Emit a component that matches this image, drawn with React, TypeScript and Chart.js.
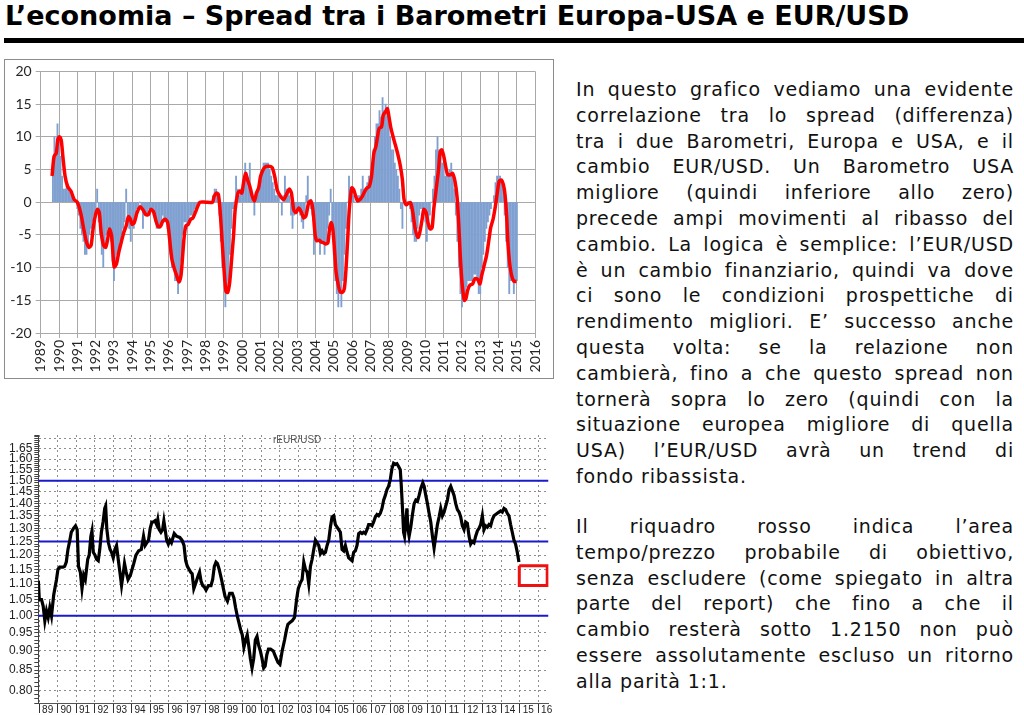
import React, { useEffect, useRef } from "react";
import { Chart, registerables } from "chart.js";

Chart.register(...registerables);

// ---------- Chart 1: spread between the Barometers (Europe - USA) ----------
const SPREAD_YEARS = [1989, 1990, 1991, 1992, 1993, 1994, 1995, 1996, 1997, 1998, 1999, 2000, 2001, 2002, 2003, 2004, 2005, 2006, 2007, 2008, 2009, 2010, 2011, 2012, 2013, 2014, 2015, 2016];
const SPREAD_TICKS = [-20, -15, -10, -5, 0, 5, 10, 15, 20];

// monthly bars, first bar = September 1989
const BAR_FIRST_YEAR = 1989;
const BAR_FIRST_MONTH = 8; // 0-based (September)
const spreadMonthly = [
  4, 10, 7, 12,
  10, 7, 4, 2, 2, 3, 2, 1.5, 1, 0.5, 0.3, 0,
  -1, -2, -4, -5, -6, -8, -8, -7, -5, -4, -3, -2,
  -1, 2, -3, -5, -8, -10, -7, -5, -4, -4, -6, -9,
  -12, -10, -8, -7, -6, -5, -4, -3, 2, -2, -4, -6,
  -3, -4, -2, -1, -1, 0, -1, -4, -2, -2, -2, -1,
  -1, -1, -2, -3, -4, -4, -4, -3, -2, -3, -3, -4,
  -6, -8, -10, -10, -12, -12, -14, -12, -9, -5, -3, -3,
  -4, -3, -2, -2, -2, -1, -1, 0, 0, 0, 0, 0,
  0, 0, 0, 0, 0, 1, 2, 2, 1, -2, -6, -10,
  -12, -16, -14, -12, -8, -4, -1, 0, 4, 2, 1, 2,
  2, 4, 6, 4, 3, 6, 2, 0, -2, 1, 2, 3,
  4, 5, 6, 6, 6, 6, 5, 4, 3, 2, 1, 1,
  1, 0, -2, 1, 4, 2, 2, 1, -2, -4, -2, -1,
  -1, -1, -2, -3, -4, -2, 1, 4, 0, -1, -2, -8,
  -6, -6, -6, -8, -6, -6, -8, -6, -4, -2, 2, -4,
  -8, -12, -14, -16, -14, -16, -12, -8, -4, 0, 4, 2,
  2, 1, 0, 0, 1, 1, 2, 4, 2, 2, 3, 4,
  4, 6, 8, 10, 12, 12, 14, 13, 16, 14, 15, 14,
  12, 10, 8, 8, 6, 5, 4, 2, -1, -4, 0, 0,
  0, 0, -1, -3, -5, -6, -6, -4, -2, -1, -1, -2,
  -3, -6, -4, -2, 0, 2, 4, 8, 10, 8, 8, 6,
  6, 4, 4, 4, 5, 6, 4, 2, -2, -6, -10, -14,
  -16, -15, -14, -13, -12, -12, -12, -12, -11, -11, -12, -14,
  -14, -10, -8, -6, -4, -3, -2, -1, 0, 1, 3, 4,
  4, 4, 3, 2, -2, -6, -10, -14, -12, -12, -14, -12,
  -12,
];

// smoothed spread (red line)
const smoothYears = [
  1989.62, 1989.73, 1989.85, 1989.94, 1990.03, 1990.12, 1990.21, 1990.33, 1990.47, 1990.65, 1990.83, 1991.0,
  1991.18, 1991.35, 1991.5, 1991.63, 1991.75, 1991.86, 1991.98, 1992.1, 1992.2, 1992.3, 1992.43, 1992.55,
  1992.66, 1992.75, 1992.87, 1993.01, 1993.14, 1993.26, 1993.4, 1993.54, 1993.67, 1993.79, 1993.9, 1993.99,
  1994.11, 1994.26, 1994.43, 1994.59, 1994.74, 1994.88, 1995.01, 1995.15, 1995.27, 1995.4, 1995.54, 1995.66,
  1995.8, 1995.93, 1996.03, 1996.16, 1996.3, 1996.42, 1996.55, 1996.66, 1996.75, 1996.84, 1996.93, 1997.05,
  1997.19, 1997.31, 1997.44, 1997.58, 1997.7, 1998.0, 1998.38, 1998.47, 1998.59, 1998.7, 1998.79, 1998.91,
  1999.02, 1999.12, 1999.21, 1999.32, 1999.44, 1999.53, 1999.62, 1999.75, 1999.85, 1999.98, 2000.07, 2000.19,
  2000.3, 2000.42, 2000.55, 2000.67, 2000.78, 2000.9, 2001.0, 2001.13, 2001.26, 2001.46, 2001.64, 2001.78,
  2001.91, 2002.09, 2002.27, 2002.45, 2002.58, 2002.69, 2002.81, 2002.94, 2003.08, 2003.21, 2003.36, 2003.48,
  2003.63, 2003.75, 2003.86, 2003.99, 2004.08, 2004.21, 2004.31, 2004.44, 2004.57, 2004.68, 2004.77, 2004.86,
  2004.95, 2005.04, 2005.13, 2005.25, 2005.35, 2005.47, 2005.58, 2005.67, 2005.76, 2005.85, 2005.98, 2006.09,
  2006.2, 2006.3, 2006.43, 2006.56, 2006.7, 2006.83, 2006.94, 2007.06, 2007.19, 2007.3, 2007.39, 2007.48,
  2007.61, 2007.7, 2007.82, 2007.93, 2008.02, 2008.11, 2008.24, 2008.37, 2008.51, 2008.64, 2008.75, 2008.84,
  2008.96, 2009.09, 2009.2, 2009.32, 2009.45, 2009.6, 2009.7, 2009.81, 2009.92, 2010.05, 2010.14, 2010.26,
  2010.37, 2010.46, 2010.59, 2010.72, 2010.81, 2010.9, 2011.01, 2011.13, 2011.22, 2011.37, 2011.49, 2011.62,
  2011.73, 2011.82, 2011.91, 2012.0, 2012.13, 2012.22, 2012.31, 2012.43, 2012.58, 2012.71, 2012.86, 2012.98,
  2013.08, 2013.21, 2013.34, 2013.45, 2013.57, 2013.7, 2013.81, 2013.93, 2014.03, 2014.15, 2014.26, 2014.35,
  2014.44, 2014.51, 2014.6, 2014.71, 2014.84, 2014.98,
];
const smoothValues = [
  4.0, 7.0, 7.5, 9.7, 10.0, 9.5, 7.0, 4.0, 2.4, 1.7, 0.4, 0.0,
  -1.6, -4.1, -6.1, -6.9, -6.6, -4.1, -2.1, -1.1, -1.6, -4.6, -6.6, -6.9,
  -5.6, -4.1, -5.1, -9.9, -9.4, -7.7, -6.1, -4.6, -3.6, -2.2, -2.6, -3.4,
  -3.1, -1.6, -0.7, -1.2, -1.9, -1.9, -1.1, -1.4, -2.6, -3.7, -3.7, -2.9,
  -2.6, -3.1, -5.4, -8.7, -10.2, -11.2, -12.2, -11.2, -8.2, -5.1, -3.6, -3.4,
  -2.6, -2.4, -1.6, -0.6, 0.0, 0.0, 0.0, 0.9, 1.4, 1.2, -1.1, -6.1,
  -10.7, -13.7, -13.8, -12.2, -8.2, -5.1, -1.1, 1.2, 1.7, 1.4, 2.9, 4.4,
  3.4, 2.4, 0.9, 0.2, 1.4, 2.2, 3.9, 4.9, 5.4, 5.5, 5.3, 3.9,
  1.9, 0.9, 0.4, 1.4, 2.0, 1.4, -1.1, -1.6, -0.9, -1.4, -2.4, -2.1,
  -0.1, 0.2, -1.1, -5.1, -5.9, -5.8, -6.1, -6.2, -6.4, -6.2, -4.1, -3.1,
  -4.1, -7.2, -10.7, -12.7, -13.7, -13.8, -13.2, -10.2, -5.7, -1.1, 2.2, 1.9,
  0.9, 0.2, 0.4, 0.9, 1.7, 2.2, 2.4, 3.9, 7.5, 8.5, 10.0, 11.3,
  11.5, 13.3, 13.8, 14.3, 13.0, 11.5, 10.0, 8.7, 7.2, 5.5, 3.4, 0.4,
  -0.4, -0.1, -0.1, -1.6, -4.1, -5.4, -4.6, -2.9, -1.1, -1.6, -3.1, -4.1,
  -3.9, -1.1, 1.9, 4.9, 7.7, 8.0, 7.0, 5.2, 4.2, 4.2, 4.4, 3.2,
  0.9, -3.1, -8.2, -12.2, -15.0, -14.7, -13.5, -12.7, -12.5, -11.7, -11.8, -12.5,
  -11.2, -9.7, -8.2, -6.2, -3.9, -2.6, -0.9, 1.4, 3.2, 3.4, 2.7, 1.2,
  -2.1, -6.2, -9.2, -11.2, -12.1, -12.1,
];

// ---------- Chart 2: EUR/USD ----------
const FX_YEARS = [1989, 1990, 1991, 1992, 1993, 1994, 1995, 1996, 1997, 1998, 1999, 2000, 2001, 2002, 2003, 2004, 2005, 2006, 2007, 2008, 2009, 2010, 2011, 2012, 2013, 2014, 2015, 2016];
const FX_LABELS = ["89", "90", "91", "92", "93", "94", "95", "96", "97", "98", "99", "00", "01", "02", "03", "04", "05", "06", "07", "08", "09", "10", "11", "12", "13", "14", "15", "16"];
const FX_LEVELS = [1.5, 1.25, 1.0];
const TARGET_YEARS = [2014.97, 2016.48];
const TARGET_PRICES = [1.095, 1.162];

const fxYears = [
  1988.95, 1989.0, 1989.12, 1989.21, 1989.3, 1989.39, 1989.48, 1989.57, 1989.66, 1989.78, 1989.93, 1990.01,
  1990.1, 1990.28, 1990.37, 1990.46, 1990.55, 1990.64, 1990.73, 1990.85, 1990.96, 1991.05, 1991.12, 1991.22,
  1991.31, 1991.4, 1991.49, 1991.62, 1991.7, 1991.79, 1991.85, 1991.92, 1992.01, 1992.1, 1992.19, 1992.27,
  1992.36, 1992.45, 1992.54, 1992.59, 1992.65, 1992.74, 1992.83, 1992.91, 1993.0, 1993.09, 1993.18, 1993.27,
  1993.36, 1993.45, 1993.54, 1993.61, 1993.7, 1993.8, 1993.93, 1994.11, 1994.23, 1994.37, 1994.52, 1994.64,
  1994.73, 1994.82, 1994.91, 1995.0, 1995.09, 1995.17, 1995.26, 1995.35, 1995.41, 1995.49, 1995.58, 1995.67,
  1995.74, 1995.8, 1995.89, 1995.98, 1996.06, 1996.15, 1996.3, 1996.42, 1996.6, 1996.72, 1996.83, 1996.92,
  1997.01, 1997.1, 1997.19, 1997.27, 1997.36, 1997.45, 1997.58, 1997.67, 1997.75, 1997.84, 1997.93, 1998.02,
  1998.15, 1998.29, 1998.38, 1998.47, 1998.56, 1998.64, 1998.73, 1998.86, 1998.96, 1999.05, 1999.18, 1999.3,
  1999.44, 1999.53, 1999.62, 1999.71, 1999.8, 1999.89, 1999.98, 2000.07, 2000.16, 2000.25, 2000.33, 2000.42,
  2000.51, 2000.6, 2000.69, 2000.78, 2000.87, 2000.96, 2001.05, 2001.14, 2001.22, 2001.31, 2001.4, 2001.51,
  2001.66, 2001.78, 2001.91, 2002.02, 2002.14, 2002.27, 2002.38, 2002.45, 2002.56, 2002.68, 2002.81, 2002.92,
  2003.01, 2003.13, 2003.22, 2003.31, 2003.4, 2003.49, 2003.58, 2003.67, 2003.76, 2003.85, 2003.94, 2004.03,
  2004.12, 2004.21, 2004.3, 2004.39, 2004.48, 2004.57, 2004.66, 2004.75, 2004.84, 2004.93, 2005.02, 2005.11,
  2005.2, 2005.29, 2005.38, 2005.47, 2005.56, 2005.65, 2005.74, 2005.83, 2005.92, 2006.01, 2006.1, 2006.19,
  2006.28, 2006.37, 2006.46, 2006.55, 2006.64, 2006.73, 2006.82, 2006.91, 2007.0, 2007.09, 2007.18, 2007.27,
  2007.36, 2007.45, 2007.54, 2007.63, 2007.72, 2007.81, 2007.9, 2007.99, 2008.08, 2008.17, 2008.26, 2008.35,
  2008.44, 2008.53, 2008.58, 2008.65, 2008.71, 2008.76, 2008.83, 2008.89, 2008.94, 2009.01, 2009.1, 2009.19,
  2009.28, 2009.37, 2009.46, 2009.55, 2009.64, 2009.75, 2009.82, 2009.91, 2010.0, 2010.09, 2010.18, 2010.27,
  2010.36, 2010.45, 2010.54, 2010.63, 2010.72, 2010.81, 2010.9, 2010.99, 2011.08, 2011.17, 2011.26, 2011.35,
  2011.44, 2011.53, 2011.62, 2011.71, 2011.8, 2011.89, 2011.98, 2012.07, 2012.16, 2012.25, 2012.34, 2012.43,
  2012.52, 2012.61, 2012.7, 2012.79, 2012.88, 2012.97, 2013.06, 2013.15, 2013.24, 2013.33, 2013.42, 2013.51,
  2013.6, 2013.69, 2013.78, 2013.87, 2013.96, 2014.05, 2014.14, 2014.23, 2014.32, 2014.41, 2014.5, 2014.59,
  2014.68, 2014.77, 2014.86, 2014.95,
];
const fxValues = [
  1.11, 1.05, 1.05, 1.03, 0.985, 1.015, 0.995, 1.025, 1.0, 1.065, 1.115, 1.15,
  1.157, 1.157, 1.16, 1.175, 1.22, 1.25, 1.285, 1.3, 1.31, 1.295, 1.16, 1.14,
  1.085, 1.13, 1.115, 1.185, 1.2, 1.27, 1.29, 1.21, 1.2, 1.185, 1.18, 1.22,
  1.285, 1.325, 1.38, 1.39, 1.3, 1.245, 1.22, 1.21, 1.19, 1.22, 1.235, 1.185,
  1.14, 1.095, 1.135, 1.17, 1.14, 1.115, 1.13, 1.17, 1.2, 1.215, 1.22, 1.27,
  1.235, 1.245, 1.255, 1.3, 1.325, 1.325, 1.33, 1.315, 1.335, 1.295, 1.285, 1.295,
  1.33, 1.3, 1.255, 1.24, 1.255, 1.245, 1.28, 1.27, 1.265, 1.255, 1.235, 1.18,
  1.16, 1.15, 1.14, 1.135, 1.085, 1.1, 1.125, 1.14, 1.11, 1.095, 1.09, 1.08,
  1.095, 1.095, 1.115, 1.16, 1.175, 1.17, 1.15, 1.115, 1.085, 1.06, 1.045, 1.07,
  1.07, 1.055, 1.025, 1.0, 0.98, 0.96, 0.945, 0.91, 0.93, 0.945, 0.915, 0.88,
  0.855, 0.88, 0.93, 0.94, 0.915, 0.9, 0.88, 0.855, 0.86, 0.89, 0.905, 0.905,
  0.9, 0.885, 0.87, 0.865, 0.9, 0.93, 0.96, 0.975, 0.98, 0.985, 0.995, 1.05,
  1.085, 1.105, 1.115, 1.175, 1.15, 1.14, 1.1, 1.16, 1.185, 1.22, 1.255, 1.245,
  1.235, 1.205, 1.215, 1.205, 1.21, 1.235, 1.255, 1.305, 1.345, 1.35, 1.315, 1.305,
  1.295, 1.285, 1.22, 1.215, 1.235, 1.21, 1.19, 1.185, 1.18, 1.21, 1.215, 1.235,
  1.28, 1.285, 1.28, 1.285, 1.28, 1.295, 1.315, 1.315, 1.31, 1.325, 1.345, 1.355,
  1.35, 1.36, 1.38, 1.415, 1.435, 1.46, 1.475, 1.505, 1.555, 1.58, 1.575, 1.578,
  1.565, 1.55, 1.485, 1.38, 1.285, 1.27, 1.33, 1.38, 1.3, 1.27, 1.305, 1.355,
  1.4, 1.415, 1.41, 1.435, 1.465, 1.49, 1.475, 1.435, 1.4, 1.36, 1.325, 1.27,
  1.225, 1.27, 1.315, 1.345, 1.38, 1.35, 1.365, 1.39, 1.415, 1.46, 1.475, 1.455,
  1.435, 1.4, 1.375, 1.365, 1.345, 1.31, 1.295, 1.325, 1.32, 1.27, 1.24, 1.25,
  1.245, 1.27, 1.29, 1.3, 1.315, 1.35, 1.295, 1.31, 1.305, 1.315, 1.31, 1.335,
  1.35, 1.355, 1.36, 1.365, 1.37, 1.365, 1.38, 1.375, 1.36, 1.35, 1.315, 1.285,
  1.255, 1.24, 1.21, 1.175,
];

const FX_MIN_YEAR = 1988.946;
const FX_MAX_YEAR = 2016.55;
const FX_MIN = 0.77;
const FX_MAX = 1.72;

// ---------- Text ----------
const TITLE = "L\u2019economia \u2013 Spread tra i Barometri Europa-USA e EUR/USD";
const PARAGRAPH_1 = [
  "In questo grafico vediamo una evidente",
  "correlazione tra lo spread (differenza)",
  "tra i due Barometri, Europa e USA, e il",
  "cambio EUR/USD. Un Barometro USA",
  "migliore (quindi inferiore allo zero)",
  "precede ampi movimenti al ribasso del",
  "cambio. La logica \u00e8 semplice: l\u2019EUR/USD",
  "\u00e8 un cambio finanziario, quindi va dove",
  "ci sono le condizioni prospettiche di",
  "rendimento migliori. E\u2019 successo anche",
  "questa volta: se la relazione non",
  "cambier\u00e0, fino a che questo spread non",
  "torner\u00e0 sopra lo zero (quindi con la",
  "situazione europea migliore di quella",
  "USA) l\u2019EUR/USD avr\u00e0 un trend di",
  "fondo ribassista.",
];
const PARAGRAPH_2 = [
  "Il riquadro rosso indica l\u2019area",
  "tempo/prezzo probabile di obiettivo,",
  "senza escludere (come spiegato in altra",
  "parte del report) che fino a che il",
  "cambio rester\u00e0 sotto 1.2150 non pu\u00f2",
  "essere assolutamente escluso un ritorno",
  "alla parit\u00e0 1:1.",
];

function SpreadChart() {
  const ref = useRef<HTMLCanvasElement | null>(null);
  useEffect(() => {
    if (!ref.current) return;
    const bars = spreadMonthly.map((v, i) => ({ x: BAR_FIRST_YEAR + (BAR_FIRST_MONTH + i) / 12, y: v }));
    const smooth = smoothYears.map((x, i) => ({ x, y: smoothValues[i] }));
    const gridColor = "#A9A9A9";
    const chart = new Chart(ref.current, {
      type: "bar",
      data: {
        datasets: [
          {
            type: "line",
            data: smooth,
            borderColor: "#FF0000",
            borderWidth: 3.5,
            pointRadius: 0,
            tension: 0.25,
            order: 0,
          } as any,
          {
            type: "bar",
            data: bars,
            backgroundColor: "#7FA0D0",
            barThickness: 1.2,
            order: 1,
          } as any,
        ],
      },
      options: {
        animation: false,
        responsive: false,
        maintainAspectRatio: false,
        layout: { padding: { top: 10, right: 17, left: 0, bottom: 0 } },
        plugins: { legend: { display: false }, tooltip: { enabled: false } },
        scales: {
          x: {
            type: "linear",
            min: SPREAD_YEARS[0],
            max: SPREAD_YEARS[SPREAD_YEARS.length - 1],
            offset: false,
            grid: { color: gridColor, tickLength: 5, offset: false },
            border: { color: gridColor },
            afterBuildTicks: (s: any) => {
              s.ticks = SPREAD_YEARS.map((v) => ({ value: v }));
            },
            afterFit: (s: any) => {
              s.height = 46;
            },
            ticks: {
              autoSkip: false,
              minRotation: 90,
              maxRotation: 90,
              padding: 2,
              color: "#262626",
              font: { family: "Lato", size: 14 },
              callback: (v: any) => String(v),
            },
          },
          y: {
            min: SPREAD_TICKS[0],
            max: SPREAD_TICKS[SPREAD_TICKS.length - 1],
            grid: { color: gridColor, tickLength: 5 },
            border: { color: gridColor },
            afterBuildTicks: (s: any) => {
              s.ticks = SPREAD_TICKS.map((v) => ({ value: v }));
            },
            afterFit: (s: any) => {
              s.width = 36.7;
            },
            ticks: {
              padding: 4,
              color: "#262626",
              font: { family: "Lato", size: 14 },
              callback: (v: any) => String(v),
            },
          },
        },
      },
    });
    return () => chart.destroy();
  }, []);
  return <canvas ref={ref} width={550} height={320} style={{ position: "absolute", left: 4, top: 59, width: 550, height: 320 }} />;
}

function isMajor(v: number) {
  const k = Math.round(v * 100);
  return k % 5 === 0;
}

function FxChart() {
  const ref = useRef<HTMLCanvasElement | null>(null);
  useEffect(() => {
    if (!ref.current) return;
    const fx = fxYears.map((x, i) => ({ x, y: fxValues[i] }));
    const levelSets = FX_LEVELS.map((l) => ({
      data: [
        { x: FX_MIN_YEAR, y: l },
        { x: FX_MAX_YEAR, y: l },
      ],
      borderColor: "#1A1ACC",
      borderWidth: 2,
      pointRadius: 0,
      order: 2,
    }));
    const box = [
      { x: TARGET_YEARS[0], y: TARGET_PRICES[1] },
      { x: TARGET_YEARS[1], y: TARGET_PRICES[1] },
      { x: TARGET_YEARS[1], y: TARGET_PRICES[0] },
      { x: TARGET_YEARS[0], y: TARGET_PRICES[0] },
      { x: TARGET_YEARS[0], y: TARGET_PRICES[1] },
    ];
    const yTicks: number[] = [];
    for (let k = Math.round(FX_MIN * 100); k <= Math.round(FX_MAX * 100); k++) yTicks.push(k / 100);
    const chart = new Chart(ref.current, {
      type: "line",
      data: {
        datasets: [
          ...levelSets,
          {
            data: fx,
            borderColor: "#000000",
            borderWidth: 3.2,
            pointRadius: 0,
            tension: 0,
            order: 1,
          },
          {
            data: box,
            borderColor: "#EE1111",
            borderWidth: 3,
            pointRadius: 0,
            tension: 0,
            order: 0,
          },
        ] as any,
      },
      options: {
        animation: false,
        responsive: false,
        maintainAspectRatio: false,
        layout: { padding: { top: 10, right: 4.5, left: 0, bottom: 0 } },
        plugins: { legend: { display: false }, tooltip: { enabled: false } },
        scales: {
          x: {
            type: "linear",
            min: FX_MIN_YEAR,
            max: FX_MAX_YEAR,
            grid: { color: "#8E8E8E", tickColor: "#333333", tickLength: 10, tickBorderDash: [] } as any,
            border: { color: "#555555", dash: [2, 3] },
            afterBuildTicks: (s: any) => {
              s.ticks = FX_YEARS.map((v) => ({ value: v }));
            },
            afterFit: (s: any) => {
              s.height = 12;
            },
            ticks: {
              autoSkip: false,
              minRotation: 0,
              maxRotation: 0,
              align: "start",
              padding: -9,
              color: "#222222",
              font: { family: "'Liberation Sans', Arial", size: 10 },
              callback: (v: any) => {
                const i = FX_YEARS.indexOf(Math.round(Number(v)));
                return i >= 0 ? " " + FX_LABELS[i] : "";
              },
            },
          },
          y: {
            type: "logarithmic",
            min: FX_MIN,
            max: FX_MAX,
            grid: {
              color: (c: any) => {
                const v = c.tick ? c.tick.value : 0;
                return isMajor(v) ? "#8E8E8E" : "rgba(0,0,0,0)";
              },
              tickColor: "#444444",
              tickLength: 4,
              tickBorderDash: [],
            } as any,
            border: { color: "#444444", dash: [2, 3] },
            afterBuildTicks: (s: any) => {
              s.ticks = yTicks.map((v) => ({ value: v }));
            },
            afterFit: (s: any) => {
              s.width = 38.3;
            },
            ticks: {
              autoSkip: false,
              padding: 2,
              color: "#222222",
              font: { family: "'Liberation Sans', Arial", size: 12 },
              callback: (v: any) => {
                const n = Number(v);
                if (isMajor(n) && n >= 0.799 && n <= 1.651) return n.toFixed(2);
                return "";
              },
            },
          },
        },
      },
    });
    return () => chart.destroy();
  }, []);
  return <canvas ref={ref} width={553} height={290} style={{ position: "absolute", left: 0, top: 425, width: 553, height: 290 }} />;
}

function TextLines({ lines, top }: { lines: string[]; top: number }) {
  return (
    <div style={{ position: "absolute", left: 576, top, width: 438, fontFamily: "'DejaVu Sans', 'Open Sans', sans-serif", fontSize: 19, lineHeight: "25.8px", color: "#111", letterSpacing: 0.8 }}>
      {lines.map((l, i) => {
        const last = i === lines.length - 1;
        const words = l.split(" ");
        return (
          <div key={i} style={{ display: "flex", justifyContent: last ? "flex-start" : "space-between", whiteSpace: "nowrap", height: 25.8 }}>
            {words.map((w, j) => (
              <span key={j} style={{ marginRight: last && j < words.length - 1 ? 7 : 0 }}>
                {w}
              </span>
            ))}
          </div>
        );
      })}
    </div>
  );
}

export default function App() {
  return (
    <div style={{ position: "fixed", left: 0, top: 0, width: 1024, height: 715, background: "#ffffff", overflow: "hidden" }}>
      <div style={{ position: "absolute", left: 5, top: 1, fontFamily: "'DejaVu Sans', sans-serif", fontWeight: 700, fontSize: 27, lineHeight: "30px", color: "#000", whiteSpace: "nowrap", letterSpacing: 0 }}>
        {TITLE}
      </div>
      <div style={{ position: "absolute", left: 4, top: 38, width: 1020, height: 5, background: "#000" }} />
      <SpreadChart />
      <div style={{ position: "absolute", left: 4, top: 59, width: 550, height: 320, border: "1px solid #8C8C8C", boxSizing: "border-box", pointerEvents: "none" }} />
      <FxChart />
      <div style={{ position: "absolute", left: 273, top: 434, fontFamily: "'Liberation Sans', Arial", fontSize: 10, color: "#555" }}>rEUR/USD</div>
      <TextLines lines={PARAGRAPH_1} top={77} />
      <TextLines lines={PARAGRAPH_2} top={514} />
    </div>
  );
}
